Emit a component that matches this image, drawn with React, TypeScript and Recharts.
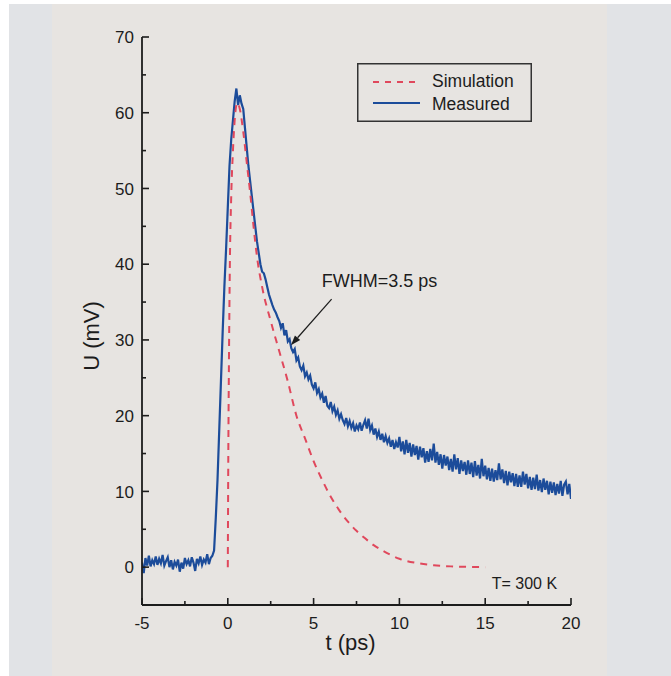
import React from 'react';
import { LineChart, Line, XAxis, YAxis, Legend, ReferenceLine, ReferenceDot, Label } from 'recharts';

// measured trace, sampled every 0.1 ps from -5 ps
const measuredStart = -5;
const measuredStep = 0.1;
const measuredU = [
  0.6, -0.8, 1.2, 0.2, 1.5, 0.1, 0.9, 0.4, 1.4, 0.3, // -5
  1.1, 0.5, 1.6, 0.2, 0.8, 1.3, 0.0, 0.9, -0.3, 0.7, // -4
  0.2, 1.0, -0.6, 0.6, -0.2, 1.2, 0.4, 0.9, 0.1, 1.3, // -3
  0.6, -0.5, 1.1, 0.5, 1.4, 0.3, 1.0, 0.6, 1.7, 0.4, // -2
  1.2, 1.5, 2.2, 6.5, 11.5, 18.0, 24.5, 31.0, 37.0, 42.0, // -1
  47.5, 53.0, 56.5, 59.0, 61.5, 63.2, 61.0, 62.3, 61.2, 60.5, // 0
  58.0, 55.5, 53.0, 51.0, 49.0, 47.0, 45.0, 43.0, 41.5, 40.0, // 1
  39.0, 38.8, 38.0, 37.0, 36.0, 35.3, 34.6, 34.0, 33.6, 33.0, // 2
  32.5, 31.6, 32.2, 30.6, 31.3, 29.8, 30.1, 28.9, 28.4, 28.8, // 3
  27.3, 27.7, 26.5, 26.0, 26.6, 25.2, 25.7, 24.8, 25.3, 24.1, // 4
  23.6, 24.4, 23.0, 23.5, 22.4, 22.9, 21.7, 22.6, 21.3, 21.0, // 5
  21.8, 20.6, 21.2, 20.1, 20.7, 19.6, 20.2, 19.4, 18.9, 19.7, // 6
  18.6, 19.3, 18.4, 19.0, 17.9, 18.7, 18.2, 19.1, 18.0, 18.8, // 7
  19.4, 18.3, 19.6, 18.1, 18.7, 17.5, 18.3, 17.2, 17.9, 16.8, // 8
  17.6, 16.5, 17.3, 16.4, 17.0, 15.9, 16.8, 15.6, 16.5, 15.8, // 9
  17.2, 15.3, 16.6, 14.9, 16.8, 15.1, 16.4, 14.6, 16.2, 14.8, // 10
  16.0, 14.2, 15.9, 14.5, 15.7, 13.8, 15.3, 13.9, 15.6, 14.1, // 11
  16.3, 13.8, 15.2, 13.5, 14.9, 13.0, 14.8, 13.4, 14.6, 12.8, // 12
  14.3, 12.6, 14.9, 12.9, 14.4, 12.3, 14.1, 12.7, 13.9, 12.2, // 13
  14.1, 12.3, 13.8, 11.9, 14.0, 12.1, 13.5, 11.7, 14.3, 12.0, // 14
  13.4, 11.6, 13.1, 11.4, 13.0, 11.3, 12.8, 11.5, 13.7, 11.6, // 15
  12.9, 11.1, 12.7, 10.8, 12.6, 11.2, 12.4, 10.7, 12.3, 10.6, // 16
  12.1, 10.6, 12.6, 10.9, 12.3, 10.4, 11.9, 10.2, 11.8, 10.3, // 17
  12.2, 10.1, 11.5, 9.9, 11.7, 10.2, 11.4, 9.6, 11.3, 9.8, // 18
  11.2, 9.5, 11.0, 9.7, 11.4, 9.4, 10.9, 11.3, 9.6, 11.0, // 19
  9.0, // 20
];

const simT = [0, 0.03, 0.07, 0.12, 0.2, 0.3, 0.4, 0.55, 0.7, 0.9, 1.1, 1.3, 1.5, 1.7, 2.0, 2.5, 3.0, 3.5, 4.0, 4.5, 5.0, 5.5, 6.0, 6.5, 7.0, 7.5, 8.0, 8.5, 9.0, 9.5, 10, 11, 12, 13, 14, 15];
const simU = [0, 15, 28, 40, 49, 55, 59, 61.3, 60.5, 57.5, 53.5, 49.5, 45, 41, 37, 32.5, 28.5, 24.5, 20, 17, 14, 11.5, 9.3, 7.5, 6.0, 4.8, 3.8, 2.9, 2.2, 1.6, 1.1, 0.55, 0.25, 0.1, 0.03, 0];

const xTicks = [-5, -2.5, 0, 2.5, 5, 7.5, 10, 12.5, 15, 17.5, 20];
const xLabels = [-5, 0, 5, 10, 15, 20];
const yTicks = [-5, 0, 5, 10, 15, 20, 25, 30, 35, 40, 45, 50, 55, 60, 65, 70];
const yLabels = [0, 10, 20, 30, 40, 50, 60, 70];

const legendItems = [
  { name: 'Simulation', color: '#e0485c', dash: '6 6' },
  { name: 'Measured', color: '#1c4c9a', dash: undefined },
];

const measuredData = measuredU.map((u, i) => ({ t: +(measuredStart + i * measuredStep).toFixed(2), u }));
const simData = simT.map((t, i) => ({ t, u: simU[i] }));

const font = '"Liberation Sans", Arial, sans-serif';
const ink = '#1c1c1c';

const BottomTick = (props: any) => {
  const { x, y, payload } = props;
  const major = xLabels.includes(payload.value);
  return (
    <g>
      <line x1={x} y1={y} x2={x} y2={y - (major ? 7 : 4)} stroke={ink} strokeWidth={1.6} />
      {major && (
        <text x={x} y={y + 24} textAnchor="middle" fontSize={17} fontFamily={font} fill={ink}>
          {payload.value}
        </text>
      )}
    </g>
  );
};

const TopTick = (props: any) => {
  const { x, y, payload } = props;
  const major = xLabels.includes(payload.value);
  return <line x1={x} y1={y} x2={x} y2={y + (major ? 7 : 4)} stroke={ink} strokeWidth={1.6} />;
};

const LeftTick = (props: any) => {
  const { x, y, payload } = props;
  const major = yLabels.includes(payload.value);
  return (
    <g>
      <line x1={x} y1={y} x2={x + (major ? 7 : 4)} y2={y} stroke={ink} strokeWidth={1.6} />
      {major && (
        <text x={x - 8} y={y} dy="0.36em" textAnchor="end" fontSize={17} fontFamily={font} fill={ink}>
          {payload.value}
        </text>
      )}
    </g>
  );
};

const RightTick = (props: any) => {
  const { x, y, payload } = props;
  const major = yLabels.includes(payload.value);
  return <line x1={x} y1={y} x2={x - (major ? 7 : 4)} y2={y} stroke={ink} strokeWidth={1.6} />;
};

const renderLegend = () => (
  <svg width={175} height={59} style={{ display: 'block' }}>
    <rect x={0.75} y={0.75} width={173.5} height={57.5} fill="none" stroke="#333" strokeWidth={1.5} />
    {legendItems.map((it, i) => (
      <g key={it.name}>
        <line x1={16} x2={63} y1={19 + 21 * i} y2={19 + 21 * i} stroke={it.color} strokeWidth={2} strokeDasharray={it.dash} />
        <text x={75} y={24 + 23 * i} fontSize={17.5} fontFamily={font} fill={ink}>
          {it.name}
        </text>
      </g>
    ))}
  </svg>
);

const Arrow = (props: any) => {
  const { x1, y1, x2, y2 } = props;
  const dx = x2 - x1;
  const dy = y2 - y1;
  const len = Math.sqrt(dx * dx + dy * dy);
  const ux = dx / len;
  const uy = dy / len;
  const hl = 10;
  const hw = 3.5;
  const bx = x2 - ux * hl;
  const by = y2 - uy * hl;
  return (
    <g>
      <line x1={x1} y1={y1} x2={bx} y2={by} stroke={ink} strokeWidth={1.2} />
      <polygon points={`${x2},${y2} ${bx - uy * hw},${by + ux * hw} ${bx + uy * hw},${by - ux * hw}`} fill={ink} />
    </g>
  );
};

export default function App() {
  return (
    <div style={{ position: 'absolute', left: 0, top: 0, width: 671, height: 676, background: '#fff', overflow: 'hidden' }}>
      <div style={{ position: 'absolute', left: 9, top: 4, width: 662, height: 672, background: '#e1e3e6' }} />
      <div style={{ position: 'absolute', left: 52, top: 4, width: 555, height: 672, background: '#e7e4e1' }} />
      <div style={{ position: 'absolute', left: 0, top: 0 }}>
        <LineChart width={671} height={676} margin={{ top: 37, right: 100, bottom: 21, left: 0 }}>
          <XAxis
            type="number"
            dataKey="t"
            domain={[-5, 20]}
            ticks={xTicks}
            interval={0}
            allowDataOverflow
            height={50}
            tickSize={0}
            tickMargin={0}
            tickLine={false}
            tick={BottomTick}
            axisLine={{ stroke: ink, strokeWidth: 1.8 }}
          >
            <Label
              content={(p: any) => (
                <text
                  x={p.viewBox.x + p.viewBox.width / 2 - 6}
                  y={p.viewBox.y + 45}
                  textAnchor="middle"
                  fontSize={22}
                  fontFamily={font}
                  fill={ink}
                >
                  t (ps)
                </text>
              )}
            />
          </XAxis>
          <XAxis
            xAxisId="top"
            orientation="top"
            type="number"
            dataKey="t"
            domain={[-5, 20]}
            ticks={xTicks}
            interval={0}
            allowDataOverflow
            height={0}
            tickSize={0}
            tickMargin={0}
            tickLine={false}
            tick={TopTick}
            axisLine={{ stroke: ink, strokeWidth: 1.8 }}
          />
          <YAxis
            type="number"
            domain={[-5, 70]}
            ticks={yTicks}
            interval={0}
            allowDataOverflow
            width={142}
            tickSize={0}
            tickMargin={0}
            tickLine={false}
            tick={LeftTick}
            axisLine={{ stroke: ink, strokeWidth: 1.8 }}
          >
            <Label
              content={(p: any) => {
                const cx = 91;
                const cy = p.viewBox.y + p.viewBox.height / 2 + 15;
                return (
                  <text
                    x={cx}
                    y={cy}
                    transform={`rotate(-90 ${cx} ${cy})`}
                    textAnchor="middle"
                    dominantBaseline="central"
                    fontSize={22}
                    fontFamily={font}
                    fill={ink}
                  >
                    U (mV)
                  </text>
                );
              }}
            />
          </YAxis>
          <YAxis
            yAxisId="right"
            orientation="right"
            type="number"
            domain={[-5, 70]}
            ticks={yTicks}
            interval={0}
            allowDataOverflow
            width={0}
            tickSize={0}
            tickMargin={0}
            tickLine={false}
            tick={RightTick}
            axisLine={{ stroke: ink, strokeWidth: 1.8 }}
          />
          <Line
            data={measuredData}
            dataKey="u"
            name="Measured"
            type="linear"
            stroke="#1c4c9a"
            strokeWidth={2.2}
            dot={false}
            activeDot={false}
            isAnimationActive={false}
          />
          <Line
            data={simData}
            dataKey="u"
            name="Simulation"
            type="monotone"
            stroke="#e0485c"
            strokeWidth={2}
            strokeDasharray="7 6"
            dot={false}
            activeDot={false}
            isAnimationActive={false}
          />
          <ReferenceLine
            segment={[{ x: 6.05, y: 35.4 }, { x: 3.68, y: 29.3 }]}
            shape={Arrow}
          />
          <ReferenceDot
            x={5.48}
            y={37.0}
            r={0}
            shape={(p: any) => (
              <text x={p.cx} y={p.cy} fontSize={18} fontFamily={font} fill={ink}>
                FWHM=3.5 ps
              </text>
            )}
          />
          <ReferenceDot
            x={15.38}
            y={-2.9}
            r={0}
            shape={(p: any) => (
              <text x={p.cx} y={p.cy} fontSize={16} fontFamily={font} fill={ink}>
                T= 300 K
              </text>
            )}
          />
          <Legend
            layout="vertical"
            align="center"
            verticalAlign="middle"
            wrapperStyle={{ position: 'absolute', left: 357, top: 63, width: 175, height: 59 }}
            content={renderLegend}
          />
        </LineChart>
      </div>
    </div>
  );
}
